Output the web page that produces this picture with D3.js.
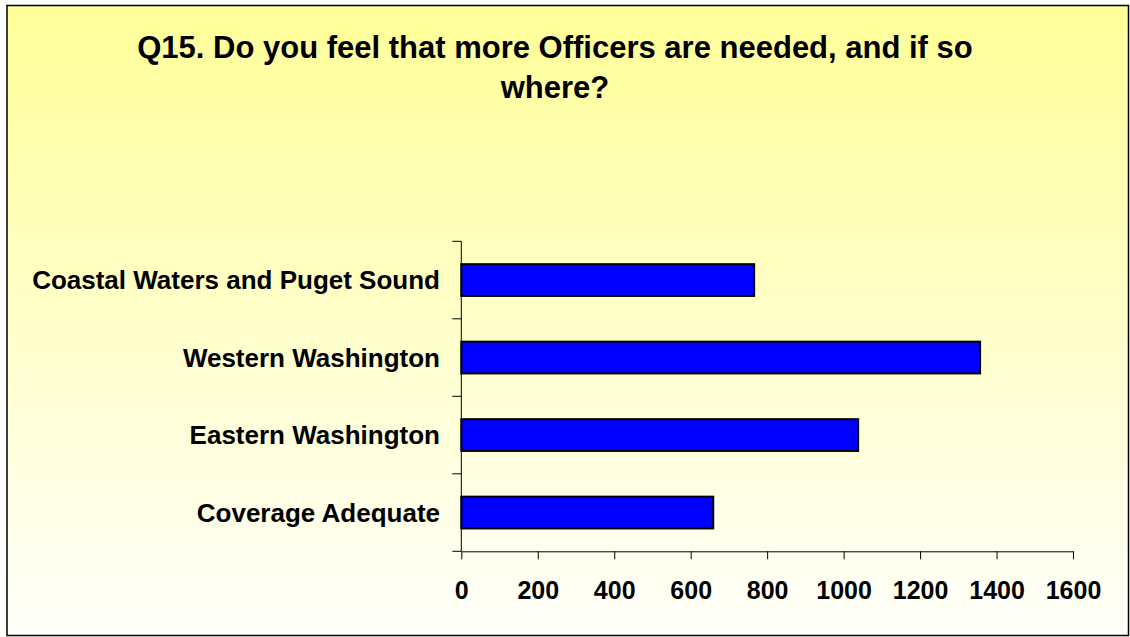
<!DOCTYPE html>
<html>
<head>
<meta charset="utf-8">
<script src="https://cdn.jsdelivr.net/npm/d3@7"></script>
<style>
  body { margin: 0; background: #fff; }
  text { font-family: "Liberation Sans", Arial, sans-serif; font-weight: bold; fill: #000; }
</style>
</head>
<body>
<svg id="chart" width="1130" height="637"></svg>
<script>
// chart data
const categories = ["Coastal Waters and Puget Sound", "Western Washington", "Eastern Washington", "Coverage Adequate"];
const values = [766, 1357, 1038, 659];
const xTicks = [0, 200, 400, 600, 800, 1000, 1200, 1400, 1600];
const titleLines = ["Q15. Do you feel that more Officers are needed, and if so", "where?"];

const svg = d3.select("#chart");

// background gradient
const defs = svg.append("defs");
const grad = defs.append("linearGradient")
    .attr("id", "bg")
    .attr("x1", 0).attr("y1", 0).attr("x2", 0).attr("y2", 1);
grad.append("stop").attr("offset", "0%").attr("stop-color", "#FFFF99");
grad.append("stop").attr("offset", "100%").attr("stop-color", "#FFFFFB");

svg.append("rect")
    .attr("x", 7).attr("y", 5.5)
    .attr("width", 1121.5).attr("height", 630)
    .attr("fill", "url(#bg)")
    .attr("stroke", "#000")
    .attr("stroke-width", 1.5);

// title
svg.selectAll("text.title")
    .data(titleLines)
    .enter().append("text")
    .attr("class", "title")
    .attr("x", 555)
    .attr("y", (d, i) => 58 + i * 40)
    .attr("text-anchor", "middle")
    .style("font-size", "31px")
    .text(d => d);

// plot area
const plotLeft = 461.3, plotRight = 1073, plotTop = 241.3, plotBottom = 551.3;

const x = d3.scaleLinear().domain([0, 1600]).range([plotLeft, plotRight]);
const y = d3.scaleBand().domain(categories).range([plotTop, plotBottom]).padding(0);
const barH = y.bandwidth() * 0.41;

// bars
svg.selectAll("rect.bar")
    .data(values)
    .enter().append("rect")
    .attr("class", "bar")
    .attr("x", x(0))
    .attr("y", (d, i) => y(categories[i]) + (y.bandwidth() - barH) / 2)
    .attr("width", d => x(d) - x(0))
    .attr("height", barH)
    .attr("fill", "#0000FF")
    .attr("stroke", "#000")
    .attr("stroke-width", 2);

// x axis
const xAxis = svg.append("g")
    .attr("transform", `translate(0,${plotBottom})`)
    .call(d3.axisBottom(x).tickValues(xTicks).tickFormat(d3.format("d"))
        .tickSize(8).tickPadding(22).tickSizeOuter(0));
xAxis.select(".domain").attr("stroke", "#000");
xAxis.selectAll(".tick line").attr("stroke", "#000");
xAxis.selectAll(".tick text")
    .style("font-size", "25px")
    .attr("fill", "#000");

// y axis: ticks sit on band boundaries
const yEdges = categories.map(c => y(c)).concat([plotBottom]);
svg.append("line")
    .attr("x1", plotLeft).attr("x2", plotLeft)
    .attr("y1", plotTop).attr("y2", plotBottom)
    .attr("stroke", "#000");
svg.selectAll("line.ytick")
    .data(yEdges)
    .enter().append("line")
    .attr("class", "ytick")
    .attr("x1", plotLeft - 9).attr("x2", plotLeft)
    .attr("y1", d => d).attr("y2", d => d)
    .attr("stroke", "#000");

svg.selectAll("text.ylabel")
    .data(categories)
    .enter().append("text")
    .attr("class", "ylabel")
    .attr("x", 440)
    .attr("y", d => y(d) + y.bandwidth() / 2)
    .attr("dy", "0.35em")
    .attr("text-anchor", "end")
    .style("font-size", "26px")
    .text(d => d);
</script>
</body>
</html>
